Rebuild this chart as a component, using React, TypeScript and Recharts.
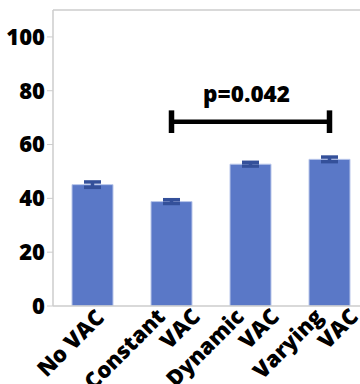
import React from 'react';
import { BarChart, Bar, XAxis, YAxis, ErrorBar, ReferenceLine } from 'recharts';

const categories = ['No VAC', 'Constant VAC', 'Dynamic VAC', 'Varying VAC'];
const tickLines = [['No VAC'], ['Constant', 'VAC'], ['Dynamic', 'VAC'], ['Varying', 'VAC']];
const means = [45.1, 38.8, 52.7, 54.5];
const errors = [1.0, 0.7, 0.7, 0.85];
const yTicks = [0, 20, 40, 60, 80, 100];
const bracketFrom = 'Constant VAC';
const bracketTo = 'Varying VAC';
const bracketY = 68.5;
const bracketCapLow = 64.3;
const bracketCapHigh = 72.7;
const pLabel = 'p=0.042';

const data = categories.map((c, i) => ({ name: c, value: means[i], err: errors[i] }));

const FONT = '"Open Sans", "DejaVu Sans", sans-serif';
const W = 800;

const XTick = (props: any) => {
  const { x, y, index } = props;
  const lines = tickLines[index] || [];
  if (lines.length === 1) {
    return (
      <text
        transform={`translate(${x + 13},${y + 13}) rotate(-45)`}
        textAnchor="end"
        fontFamily={FONT}
        fontWeight={W}
        fontSize={22}
        fill="#000"
      >
        {lines[0]}
      </text>
    );
  }
  const offsets = [-5, 30];
  return (
    <g>
      {lines.map((l: string, k: number) => (
        <text
          key={k}
          transform={`translate(${x + offsets[k]},${y + 12}) rotate(-45)`}
          textAnchor="end"
          fontFamily={FONT}
          fontWeight={W}
          fontSize={22}
          fill="#000"
        >
          {l}
        </text>
      ))}
    </g>
  );
};

export default function App() {
  return (
    <div style={{ position: 'absolute', left: 0, top: 0, width: 360, height: 384, overflow: 'hidden', background: '#fff' }}>
      <BarChart width={380} height={384} data={data} margin={{ top: 10, right: 11, bottom: 8, left: 0 }} barCategoryGap={0}>
        <XAxis
          dataKey="name"
          height={70}
          interval={0}
          tickLine={false}
          tickSize={0}
          tickMargin={0}
          axisLine={{ stroke: '#cccccc', strokeWidth: 1.5 }}
          tick={<XTick />}
        />
        <YAxis
          width={53}
          domain={[0, 110]}
          ticks={yTicks}
          allowDataOverflow
          axisLine={{ stroke: '#cccccc', strokeWidth: 1.5 }}
          tickLine={{ stroke: '#cccccc' }}
          tickSize={6}
          tickMargin={2}
          tick={{ fontFamily: FONT, fontWeight: W, fontSize: 22, fill: '#000' }}
        />
        <ReferenceLine y={110} stroke="#cccccc" strokeWidth={1.5} />
        <Bar dataKey="value" fill="#5a78c7" stroke="#b9c6ea" strokeWidth={1} barSize={41} isAnimationActive={false}>
          <ErrorBar dataKey="err" width={8.5} strokeWidth={3.5} stroke="#34509a" />
        </Bar>
        <ReferenceLine
          position="middle"
          segment={[{ x: bracketFrom, y: bracketY }, { x: bracketTo, y: bracketY }]}
          stroke="#000"
          strokeWidth={4.5}
          label={{ value: pLabel, position: 'top', offset: 20, dx: -4, fontFamily: FONT, fontWeight: W, fontSize: 22.5, fill: '#000' }}
        />
        <ReferenceLine
          position="middle"
          segment={[{ x: bracketFrom, y: bracketCapLow }, { x: bracketFrom, y: bracketCapHigh }]}
          stroke="#000"
          strokeWidth={5.5}
        />
        <ReferenceLine
          position="middle"
          segment={[{ x: bracketTo, y: bracketCapLow }, { x: bracketTo, y: bracketCapHigh }]}
          stroke="#000"
          strokeWidth={5.5}
        />
      </BarChart>
    </div>
  );
}
